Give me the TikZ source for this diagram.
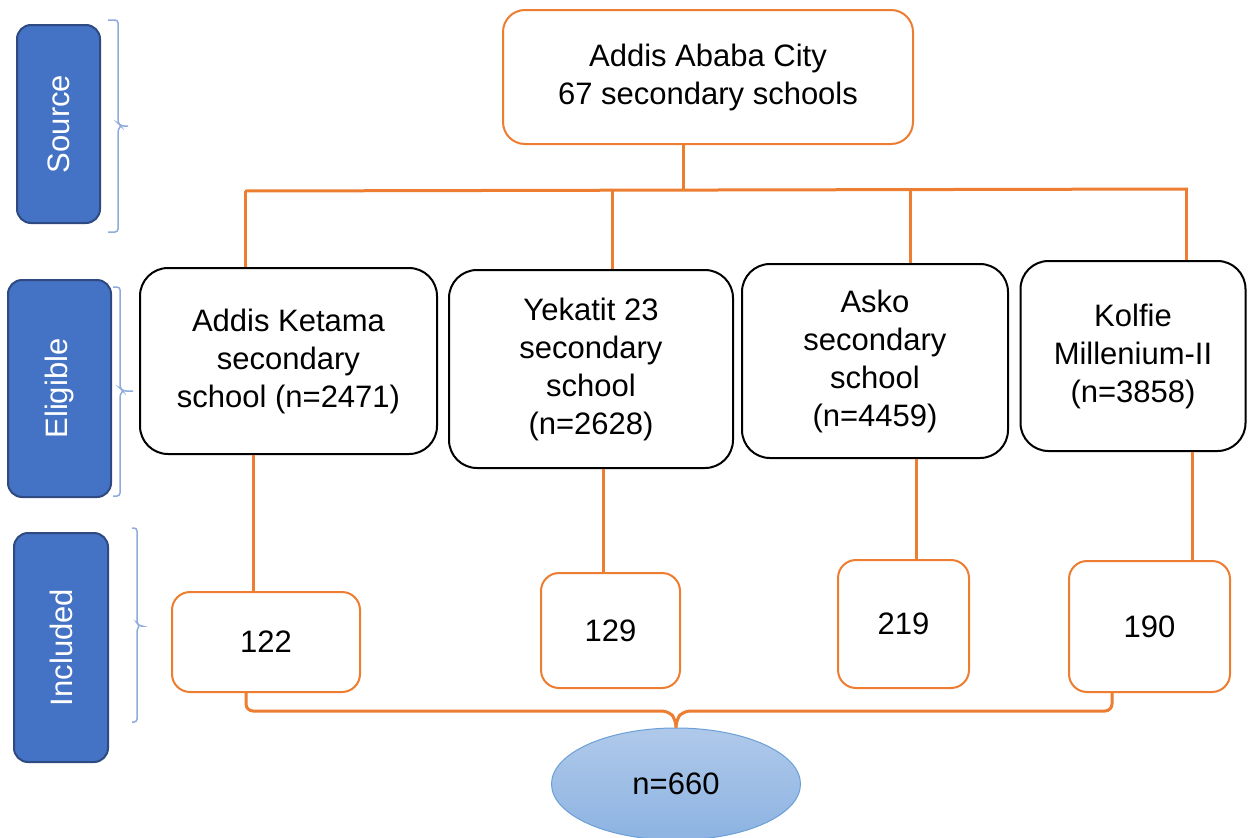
\documentclass[tikz,border=0pt]{standalone}
\usepackage{fontspec}
\setmainfont{Liberation Sans}
\usetikzlibrary{shapes.geometric,calc}
\definecolor{orng}{HTML}{ED7D31}
\definecolor{lblue}{HTML}{4472C4}
\definecolor{lbord}{HTML}{2F4A80}
\definecolor{brc}{HTML}{8FAADC}
\definecolor{elltop}{HTML}{B0C9EA}
\definecolor{ellbot}{HTML}{8CB3E2}
\definecolor{ellbord}{HTML}{6A9FD8}
\tikzset{
  txt/.style={font=\fontsize{31}{38}\selectfont, align=center, inner sep=0pt},
  topbox/.style={txt, draw=orng, line width=2pt, rounded corners=22pt, fill=white},
  eligbox/.style={txt, draw=black, line width=2pt, rounded corners=28pt, fill=white},
  incbox/.style={txt, draw=orng, line width=2pt, rounded corners=18pt, fill=white},
  lblbox/.style={txt, draw=lbord, line width=2pt, rounded corners=14pt, fill=lblue, text=white},
  conn/.style={draw=orng, line width=3pt},
  brace/.style={draw=brc, line width=1.5pt, rounded corners=3pt},
}
\begin{document}
\begin{tikzpicture}[x=1pt,y=-1pt]
\useasboundingbox (0,0) rectangle (1248,838);
% side labels
\node[lblbox, minimum width=83pt, minimum height=198pt] (lsrc) at (58.5,124) {};
\node[txt, text=white, rotate=90] (tsrc) at (lsrc.center) {Source};
\node[lblbox, minimum width=103pt, minimum height=217pt] (lelg) at (59.5,388.5) {};
\node[txt, text=white, rotate=90] (telg) at (lelg.center) {Eligible};
\node[lblbox, minimum width=94pt, minimum height=229pt] (linc) at (61,647.5) {};
\node[txt, text=white, rotate=90] (tinc) at (linc.center) {Included};
% braces
\draw[brace] (108,20) -- (118,20) -- (118,123) -- (121,126) -- (128,126);
\draw[brace] (121,126) -- (118,129) -- (118,232) -- (108,232);
\draw[brace] (113,287) -- (120,287) -- (120,388) -- (123,391) -- (133,391);
\draw[brace] (123,391) -- (120,394) -- (120,496) -- (113,496);
\draw[brace] (132,528) -- (137,528) -- (137,623) -- (139,626) -- (141,626);
\draw[brace] (139,626) -- (137,629) -- (137,722) -- (132,722);
% top box
\node[topbox, minimum width=410pt, minimum height=134pt] (top) at (708,77) {Addis Ababa City\\67 secondary schools};
% eligible boxes
\node[eligbox, minimum width=297pt, minimum height=186pt] (ak) at (288.5,361) {Addis Ketama\\secondary\\school (n=2471)};
\node[eligbox, minimum width=284pt, minimum height=198pt] (yk) at (591,369) {Yekatit 23\\secondary\\school\\(n=2628)};
\node[eligbox, minimum width=266pt, minimum height=194pt] (as) at (875,361) {Asko\\secondary\\school\\(n=4459)};
\node[eligbox, minimum width=225pt, minimum height=190pt] (kf) at (1133,356) {Kolfie\\Millenium-II\\(n=3858)};
% included boxes
\node[incbox, minimum width=188pt, minimum height=100pt] (i1) at (266,642) {122};
\node[incbox, minimum width=139pt, minimum height=115pt] (i2) at (610.5,630.5) {129};
\node[incbox, minimum width=131pt, minimum height=128pt] (i3) at (903.5,624) {219};
\node[incbox, minimum width=161pt, minimum height=131pt] (i4) at (1149.5,626.5) {190};
% total
\node[ellipse, draw=ellbord, line width=1pt, top color=elltop, bottom color=ellbot,
      minimum width=249pt, minimum height=112pt, txt] (tot) at (676,784) {n=660};
% bus coordinates
\coordinate (busL) at (245,191);
\coordinate (busR) at (1188,189);
\draw[conn] (busL) -- (busR);
\draw[conn] (top.south -| 683,0) -- (683,190);
\draw[conn] (busL) -- (busL |- ak.north);
\draw[conn] (612,190) -- (yk.north -| 612,0);
\draw[conn] (910,190) -- (as.north -| 910,0);
\draw[conn] (1186,189) -- (kf.north -| 1186,0);
% eligible -> included
\draw[conn] (ak.south -| 253,0) -- (i1.north -| 253,0);
\draw[conn] (yk.south -| 603,0) -- (i2.north -| 603,0);
\draw[conn] (as.south -| 916,0) -- (i3.north -| 916,0);
\draw[conn] (kf.south -| 1192,0) -- (i4.north -| 1192,0);
% bottom bracket
\draw[conn, rounded corners=7pt] (i1.south -| 246,0) -- (246,711) -- (669,711) -- (676,720) -- (tot.north);
\draw[conn, rounded corners=7pt] (tot.north) -- (676,720) -- (683,711) -- (1112,711) -- (i4.south -| 1112,0);
\end{tikzpicture}
\end{document}
